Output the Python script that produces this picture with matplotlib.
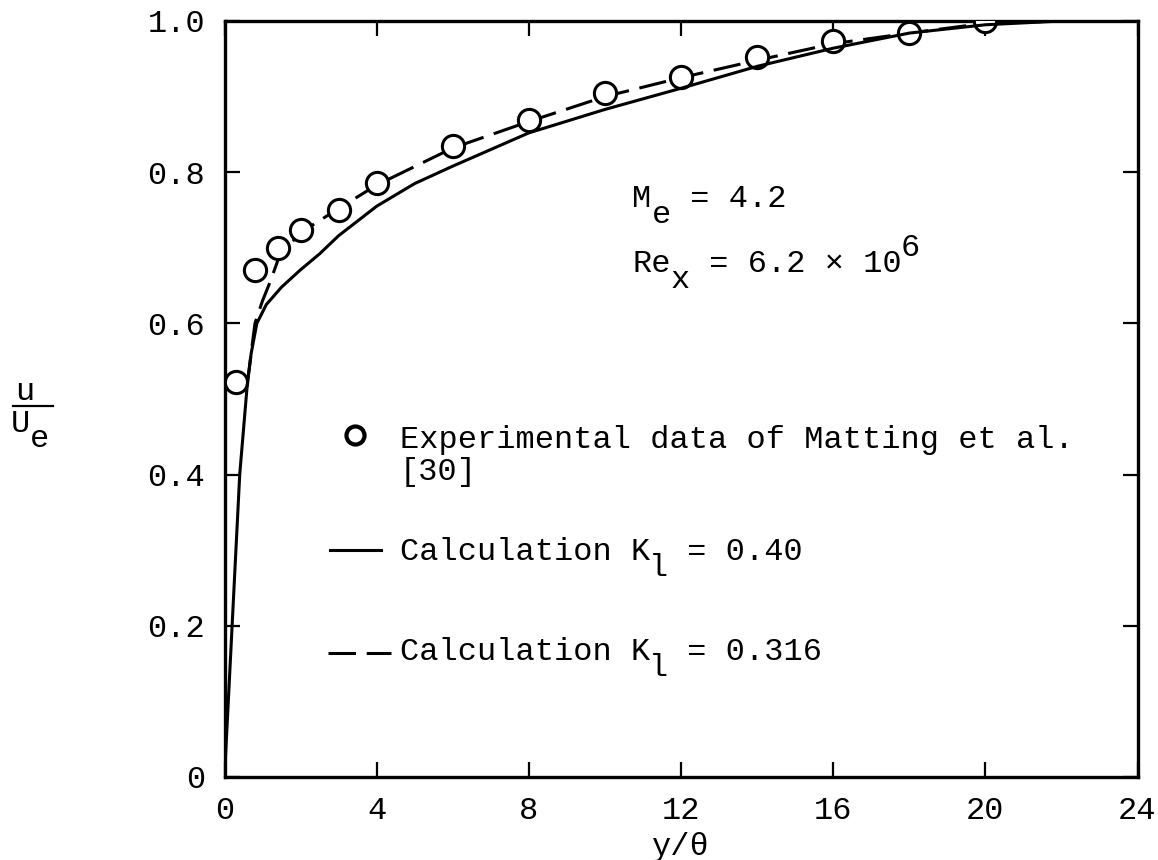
import matplotlib
matplotlib.use("Agg")
import matplotlib.pyplot as plt
from matplotlib.lines import Line2D

plt.rcParams['font.family'] = ['Liberation Mono', 'DejaVu Sans Mono']

# experimental data of Matting et al. [30]
exp_x = [0.3, 0.8, 1.4, 2, 3, 4, 6, 8, 10, 12, 14, 16, 18, 20]
exp_u = [0.522, 0.671, 0.70, 0.724, 0.75, 0.786, 0.834, 0.869, 0.905, 0.926, 0.952, 0.974, 0.984, 1.0]

# calculation K1 = 0.40 (solid)
calc40_x = [0, 0.2, 0.4, 0.6, 0.7, 0.85, 1.1, 1.5, 2, 2.5, 3, 4, 5, 6, 8, 10, 12, 14, 16, 18, 20, 22, 24]
calc40_u = [0, 0.2, 0.4, 0.52, 0.56, 0.6, 0.625, 0.648, 0.671, 0.692, 0.716, 0.755, 0.785, 0.808,
            0.852, 0.883, 0.911, 0.94, 0.964, 0.984, 0.995, 1.0, 1.0]

# calculation K1 = 0.316 (dashed)
calc316_x = [0.6, 0.8, 1.0, 1.2, 1.45, 2, 3, 4, 6, 8, 10, 12, 14, 16, 18, 20, 22, 24]
calc316_u = [0.52, 0.6, 0.63, 0.655, 0.69, 0.72, 0.752, 0.783, 0.832, 0.867, 0.9, 0.925, 0.948,
             0.97, 0.984, 0.997, 1.0, 1.0]

x_ticks = [0, 4, 8, 12, 16, 20, 24]
y_ticks = [0, 0.2, 0.4, 0.6, 0.8, 1.0]
y_tick_labels = ["0", "0.2", "0.4", "0.6", "0.8", "1.0"]

FS = 23
ADV = 0.6 * FS      # monospace advance in points
SUB = 11.5          # typewriter half-line shift in points


def put(ax, x, y, pieces):
    # write text piece by piece, each piece may be shifted up/down like a typewriter
    col = 0
    for s, dy in pieces:
        ax.annotate(s, xy=(x, y), xycoords='data', xytext=(col * ADV, dy),
                    textcoords='offset points', fontsize=FS, ha='left', va='baseline')
        col += len(s)


fig = plt.figure(figsize=(11.58, 8.6), dpi=100)
ax = fig.add_axes([224.5 / 1158, 1 - 777 / 860, (1137.5 - 224.5) / 1158, (777 - 21) / 860])

ax.plot(calc316_x, calc316_u, color='black', lw=2.2, dashes=(9, 3.5), zorder=2)
ax.plot(exp_x, exp_u, 'o', ms=16, mfc='white', mec='black', mew=2.2, zorder=3)
ax.plot(calc40_x, calc40_u, color='black', lw=2.2, zorder=4)

ax.set_xlim(0, 24)
ax.set_ylim(0, 1.0)
ax.set_xticks(x_ticks)
ax.set_xticklabels([str(t) for t in x_ticks])
ax.set_yticks(y_ticks)
ax.set_yticklabels(y_tick_labels)
ax.tick_params(direction='in', length=11, width=1.6, pad=14, labelsize=FS,
               top=True, right=True)
for sp in ax.spines.values():
    sp.set_linewidth(2.4)

ax.set_xlabel("y/θ", fontsize=FS, labelpad=4)

# flow conditions
put(ax, 10.72, 0.754, [("M", 0), ("e", -SUB), (" = 4.2", 0)])
put(ax, 10.72, 0.668, [("Re", 0), ("x", -SUB), (" = 6.2 × 10", 0), ("6", SUB)])

# hand-drawn legend
ax.plot([3.43], [0.452], 'o', ms=13, mfc='white', mec='black', mew=3)
put(ax, 4.61, 0.435, [("Experimental data of Matting et al.", 0)])
put(ax, 4.61, 0.393, [("[30]", 0)])
ax.plot([2.77, 4.11], [0.300, 0.300], color='black', lw=2.2)
put(ax, 4.61, 0.287, [("Calculation K", 0), ("l", -SUB), (" = 0.40", 0)])
ax.plot([2.72, 4.38], [0.164, 0.164], color='black', lw=2.2, dashes=(9, 3.5))
put(ax, 4.61, 0.155, [("Calculation K", 0), ("l", -SUB), (" = 0.316", 0)])

# y label u / U_e
fig.text(15 / 1158, 1 - 400 / 860, "u", fontsize=FS, ha='left', va='baseline')
fig.add_artist(Line2D([13 / 1158, 53 / 1158], [1 - 406 / 860] * 2, color='black', lw=1.6))
fig.text(11 / 1158, 1 - 432 / 860, "U", fontsize=FS, ha='left', va='baseline')
fig.text(30 / 1158, 1 - 447 / 860, "e", fontsize=FS, ha='left', va='baseline')

fig.savefig("out.png", dpi=100)
